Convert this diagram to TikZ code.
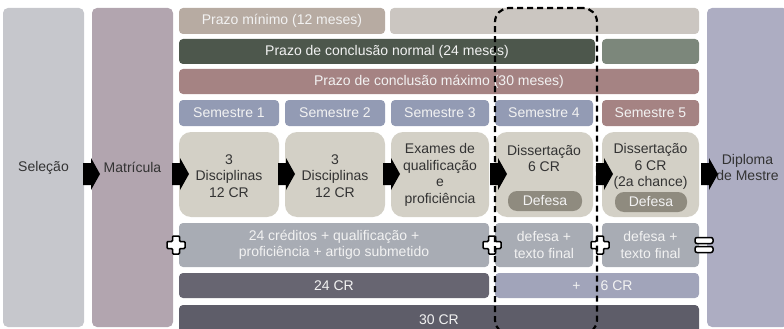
\documentclass[tikz,border=0pt]{standalone}
\usepackage{fontspec}
\setmainfont{Liberation Sans}
\definecolor{selc}{HTML}{C6C7CC}
\definecolor{matc}{HTML}{B2A5AF}
\definecolor{dipc}{HTML}{ADADC2}
\definecolor{minc}{HTML}{B7ABA2}
\definecolor{minr}{HTML}{CBC6C1}
\definecolor{norc}{HTML}{4D574C}
\definecolor{norr}{HTML}{7C877B}
\definecolor{maxc}{HTML}{A58383}
\definecolor{semc}{HTML}{939BB4}
\definecolor{boxc}{HTML}{D3D0C6}
\definecolor{pillc}{HTML}{8F8B7F}
\definecolor{reqc}{HTML}{A8ACB4}
\definecolor{crc}{HTML}{676571}
\definecolor{crr}{HTML}{A1A4BA}
\definecolor{totc}{HTML}{5E5D69}
\definecolor{darktext}{HTML}{333333}
\definecolor{lighttext}{HTML}{F2F2F2}
\begin{document}
\begin{tikzpicture}[x=1pt,y=-1pt,
  every node/.style={font=\fontsize{14}{16.5}\selectfont, inner sep=0pt, outer sep=0pt, align=center},
  sz/.style 2 args={minimum width=#1pt, minimum height=#2pt},
  column/.style={rectangle, rounded corners=5pt, text=darktext},
  bar/.style={rectangle, rounded corners=4pt, text=lighttext},
  mainbox/.style={rectangle, rounded corners=12pt, fill=boxc, text=darktext},
  pill/.style={rectangle, rounded corners=9pt, fill=pillc, text=lighttext},
  blockarr/.pic={\fill[black] (0,-11) -- (8,-11) -- (8,-16) -- (17,0) -- (8,16) -- (8,11) -- (0,11) -- cycle;},
  plussign/.pic={\filldraw[fill=white, draw=black, line width=1.5pt, rounded corners=1pt]
     (-3.5,-9) -- (3.5,-9) -- (3.5,-3.5) -- (9,-3.5) -- (9,3.5) -- (3.5,3.5) -- (3.5,9) -- (-3.5,9) -- (-3.5,3.5) -- (-9,3.5) -- (-9,-3.5) -- (-3.5,-3.5) -- cycle;},
  eqsign/.pic={\filldraw[fill=white, draw=black, line width=1.5pt, rounded corners=2pt] (-9,-7.5) rectangle (9,-1.5);
     \filldraw[fill=white, draw=black, line width=1.5pt, rounded corners=2pt] (-9,1.5) rectangle (9,7.5);},
  focusbox/.style={rectangle, draw=black, line width=2.2pt, dash pattern=on 6pt off 4pt, rounded corners=14pt}
]
\useasboundingbox (0,0) rectangle (784,329);
% columns
\node[column, fill=selc, sz={81}{319}] (sel) at (43.5,167.5) {Seleção};
\node[column, fill=matc, sz={81}{319}] (mat) at (132.5,167.5) {Matrícula};
\node[column, fill=dipc, sz={81}{319}] (dip) at (747.5,167.5) {Diploma\\de Mestre};
% row 1
\node[bar, fill=minc, sz={206}{26}] (pmin) at (282,21) {Prazo mínimo (12 meses)};
\node[bar, fill=minr, sz={309}{26}] (pminr) at (544.5,21) {};
% row 2
\node[bar, fill=norc, sz={416}{25}] (pnor) at (387,51.5) {Prazo de conclusão normal (24 meses)};
\node[bar, fill=norr, sz={97}{25}] (pnorr) at (650.5,51.5) {};
% row 3
\node[bar, fill=maxc, sz={520}{25}] (pmax) at (439,81.5) {Prazo de conclusão máximo (30 meses)};
% semesters
\node[bar, fill=semc, sz={100}{26}] (s1) at (229,113) {Semestre 1};
\node[bar, fill=semc, sz={100}{26}] (s2) at (335,113) {Semestre 2};
\node[bar, fill=semc, sz={98}{26}] (s3) at (440,113) {Semestre 3};
\node[bar, fill=semc, sz={98}{26}] (s4) at (544,113) {Semestre 4};
\node[bar, fill=maxc, sz={97}{26}] (s5) at (650.5,113) {Semestre 5};
% main boxes
\node[mainbox, sz={100}{85}] (b1) at (229,174.5) {};
\node[mainbox, sz={100}{85}] (b2) at (335,174.5) {};
\node[mainbox, sz={98}{85}] (b3) at (440,174.5) {};
\node[mainbox, sz={98}{85}] (b4) at (544,174.5) {};
\node[mainbox, sz={97}{85}] (b5) at (650.5,174.5) {};
\node[text=darktext] (t1) at (229,176) {3\\Disciplinas\\12 CR};
\node[text=darktext] (t2) at (335,176) {3\\Disciplinas\\12 CR};
\node[text=darktext] (t3) at (440,175) {Exames de\\qualificação\\e\\proficiência};
\node[text=darktext] (t4) at (544,158.5) {Dissertação\\6 CR};
\node[text=darktext] (t5) at (650.5,166.5) {Dissertação\\6 CR\\(2a chance)};
\node[pill, sz={74}{20}] (d4) at (545,201) {Defesa};
\node[pill, sz={72}{20}] (d5) at (651,202) {Defesa};
% requirements row
\node[bar, fill=reqc, sz={310}{44}] (r1) at (334,245) {24 créditos + qualificação +\\proficiência + artigo submetido};
\node[bar, fill=reqc, sz={98}{44}] (r2) at (544,245) {defesa +\\texto final};
\node[bar, fill=reqc, sz={97}{44}] (r3) at (650.5,245) {defesa +\\texto final};
% credits rows
\node[bar, fill=crc, sz={310}{25}] (c1) at (334,285.5) {24 CR};
\node[bar, fill=crr, sz={204}{25}] (c2) at (597,285.5) {};
\node[text=lighttext] (c2t) at (602.5,285.5) {+\hspace{20pt}6 CR};
\node[bar, fill=totc, sz={520}{30}] (c3) at (439,320) {30 CR};
% arrows
\pic at (83,174) {blockarr};
\pic at (172,174) {blockarr};
\pic at (278,174) {blockarr};
\pic at (383,174) {blockarr};
\pic at (490,174) {blockarr};
\pic at (596,174) {blockarr};
\pic at (701,174) {blockarr};
% operators
\pic at (176,245) {plussign};
\pic at (492,245) {plussign};
\pic at (600,245) {plussign};
\pic at (704,245) {eqsign};
% focus
\node[focusbox, sz={102}{326}] (focus) at (546,171) {};
\end{tikzpicture}
\end{document}
